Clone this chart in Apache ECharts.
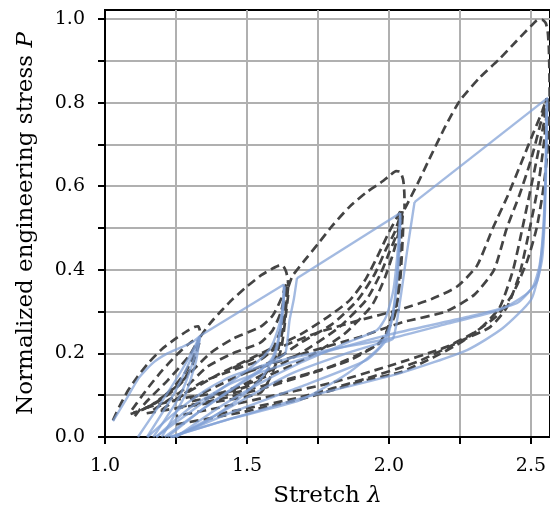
<!DOCTYPE html>
<html>
<head>
<meta charset="utf-8">
<script src="https://cdn.jsdelivr.net/npm/echarts@6/dist/echarts.min.js"></script>
<style>html,body{margin:0;padding:0;background:#fff}#c{width:550px;height:513px}</style>
</head>
<body>
<div id="c"></div>
<script>
// ---- ticks and tick labels ----
const xTicks = [1.0, 1.25, 1.5, 1.75, 2.0, 2.25, 2.5];
const xTickLabels = [1.0, 1.5, 2.0, 2.5];
const yTicks = [0, 0.1, 0.2, 0.3, 0.4, 0.5, 0.6, 0.7, 0.8, 0.9, 1.0];
const yTickLabels = [0, 0.2, 0.4, 0.6, 0.8, 1.0];

// ---- model (dashed) curves: [stretch, stress] ----
const m1Load = [[1.028,0.040],[1.05,0.072],[1.08,0.11],[1.11,0.14],[1.15,0.175],[1.2,0.21],[1.25,0.236],[1.29,0.254],[1.315,0.263],[1.328,0.265],[1.334,0.255],[1.336,0.24]];
const m2Load = [[1.336,0.24],[1.37,0.272],[1.41,0.302],[1.45,0.33],[1.5,0.36],[1.55,0.387],[1.59,0.403],[1.615,0.41],[1.628,0.408],[1.638,0.395],[1.644,0.375],[1.646,0.36]];
const m3Load = [[1.646,0.36],[1.66,0.385],[1.70,0.42],[1.75,0.462],[1.80,0.505],[1.86,0.55],[1.92,0.585],[1.97,0.608],[2.0,0.624],[2.025,0.636],[2.04,0.634],[2.05,0.615],[2.054,0.585],[2.055,0.545]];
const m4Load = [[2.055,0.545],[2.07,0.565],[2.1,0.605],[2.14,0.662],[2.2,0.745],[2.25,0.805],[2.32,0.86],[2.39,0.905],[2.45,0.948],[2.5,0.983],[2.525,0.998],[2.54,0.998],[2.552,0.99],[2.559,0.97],[2.563,0.93],[2.565,0.87],[2.566,0.80]];

const m1a = [[1.095,0.065],[1.13,0.098],[1.16,0.125],[1.2,0.158],[1.25,0.195],[1.29,0.22],[1.326,0.238]];
const m1b = [[1.105,0.05],[1.14,0.08],[1.18,0.108],[1.22,0.135],[1.26,0.165],[1.3,0.198],[1.328,0.232]];
const m1c = [[1.33,0.232],[1.31,0.19],[1.28,0.152],[1.24,0.118],[1.19,0.088],[1.14,0.068],[1.10,0.058]];
const m1d = [[1.332,0.225],[1.305,0.168],[1.27,0.13],[1.22,0.1],[1.17,0.078],[1.12,0.062],[1.09,0.055]];

const m2a = [[1.15,0.07],[1.25,0.12],[1.37,0.2],[1.45,0.235],[1.546,0.263],[1.59,0.29],[1.62,0.33],[1.64,0.37]];
const m2b = [[1.17,0.065],[1.27,0.11],[1.36,0.168],[1.45,0.2],[1.546,0.225],[1.59,0.255],[1.62,0.3],[1.64,0.365]];
const m2c = [[1.2,0.065],[1.335,0.129],[1.45,0.16],[1.546,0.184],[1.59,0.21],[1.62,0.26],[1.638,0.33],[1.645,0.37]];
const m2d = [[1.645,0.36],[1.63,0.27],[1.6,0.19],[1.546,0.136],[1.45,0.11],[1.3,0.096],[1.2,0.08],[1.12,0.065]];
const m2e = [[1.645,0.34],[1.62,0.21],[1.58,0.14],[1.546,0.105],[1.4,0.085],[1.218,0.065],[1.13,0.055]];

const m3a = [[1.25,0.09],[1.4,0.15],[1.55,0.2],[1.687,0.245],[1.78,0.285],[1.863,0.328],[1.92,0.38],[1.965,0.44],[2.0,0.49],[2.04,0.54]];
const m3b = [[1.3,0.09],[1.45,0.14],[1.6,0.185],[1.687,0.225],[1.8,0.27],[1.89,0.328],[1.95,0.39],[1.99,0.45],[2.02,0.49],[2.045,0.54]];
const m3c = [[1.35,0.09],[1.5,0.13],[1.687,0.2],[1.82,0.26],[1.92,0.328],[1.97,0.39],[2.0,0.44],[2.03,0.49],[2.048,0.54]];
const m3f = [[1.4,0.1],[1.55,0.14],[1.7,0.185],[1.84,0.245],[1.94,0.315],[1.985,0.38],[2.015,0.44],[2.038,0.5],[2.05,0.54]];
const m3d = [[2.048,0.53],[2.04,0.45],[2.03,0.328],[2.0,0.27],[1.98,0.232],[1.863,0.184],[1.687,0.144],[1.55,0.115],[1.4,0.09],[1.25,0.07]];
const m3e = [[2.05,0.5],[2.04,0.38],[2.02,0.29],[1.99,0.25],[1.958,0.22],[1.8,0.17],[1.6,0.13],[1.45,0.105],[1.3,0.085]];

const m4a = [[1.45,0.165],[1.6,0.21],[1.75,0.25],[1.9,0.28],[2.04,0.305],[2.15,0.33],[2.24,0.36],[2.31,0.41],[2.366,0.5],[2.42,0.58],[2.47,0.663],[2.51,0.73],[2.54,0.78],[2.555,0.81]];
const m4b = [[1.5,0.155],[1.7,0.2],[1.9,0.24],[2.05,0.275],[2.2,0.3],[2.3,0.34],[2.37,0.4],[2.415,0.5],[2.46,0.58],[2.5,0.663],[2.53,0.74],[2.555,0.81]];
const m4c = [[1.25,0.03],[1.45,0.055],[1.687,0.09],[1.92,0.136],[2.04,0.155],[2.155,0.19],[2.25,0.225],[2.33,0.265],[2.39,0.31],[2.437,0.4],[2.47,0.5],[2.52,0.663],[2.545,0.75],[2.558,0.81]];
const m4d = [[1.4,0.055],[1.687,0.095],[1.92,0.14],[2.1,0.18],[2.26,0.232],[2.356,0.263],[2.415,0.31],[2.46,0.39],[2.496,0.5],[2.525,0.6],[2.545,0.7],[2.56,0.81]];
const m4e = [[2.565,0.8],[2.56,0.7],[2.545,0.6],[2.52,0.5],[2.486,0.42],[2.437,0.344],[2.38,0.29],[2.3,0.25],[2.2,0.215],[2.0,0.17],[1.8,0.13],[1.6,0.1],[1.4,0.07],[1.25,0.05]];

// ---- experiment (solid blue) curves ----
const bP1 = [[1.028,0.038],[1.07,0.085],[1.12,0.142],[1.17,0.178],[1.22,0.2],[1.27,0.215],[1.31,0.228],[1.335,0.242]];
const bP2 = [[1.335,0.242],[1.63,0.365]];
const bP3 = [[1.676,0.38],[2.04,0.536]];
const bP4 = [[2.09,0.562],[2.56,0.812]];

const b1a = [[1.116,0],[1.218,0.103],[1.29,0.183],[1.333,0.24]];
const b1b = [[1.148,0],[1.24,0.1],[1.3,0.183],[1.333,0.24]];
const b1c = [[1.17,0],[1.265,0.1],[1.31,0.18],[1.335,0.24]];
const b1d = [[1.2,0],[1.282,0.1],[1.32,0.18],[1.335,0.24]];

const b2a = [[1.18,0],[1.3,0.06],[1.42,0.12],[1.52,0.17],[1.58,0.21],[1.61,0.26],[1.625,0.31],[1.63,0.365]];
const b2b = [[1.21,0],[1.33,0.06],[1.45,0.115],[1.54,0.155],[1.59,0.19],[1.615,0.25],[1.628,0.32],[1.632,0.36]];
const b2c = [[1.24,0],[1.35,0.035],[1.45,0.08],[1.55,0.14],[1.6,0.2],[1.625,0.29],[1.632,0.36]];
const b2to3 = [[1.22,0],[1.35,0.07],[1.5,0.14],[1.6,0.185],[1.635,0.2],[1.65,0.28],[1.665,0.33],[1.676,0.38]];

const b3a = [[1.25,0],[1.4,0.07],[1.55,0.13],[1.687,0.177],[1.85,0.225],[1.958,0.256],[1.99,0.288],[2.015,0.35],[2.03,0.44],[2.04,0.536]];
const b3b = [[1.24,0],[1.45,0.06],[1.687,0.12],[1.92,0.184],[1.99,0.232],[2.02,0.32],[2.035,0.43],[2.04,0.53]];
const b3c = [[1.23,0],[1.45,0.045],[1.687,0.088],[1.85,0.15],[1.968,0.216],[2.01,0.28],[2.03,0.4],[2.04,0.52]];
const b3to4 = [[1.25,0],[1.45,0.075],[1.65,0.15],[1.85,0.2],[1.97,0.225],[2.014,0.235],[2.04,0.33],[2.065,0.45],[2.09,0.562]];

const b4a = [[1.15,0],[1.25,0.06],[1.35,0.11],[1.44,0.144],[1.6,0.18],[1.8,0.21],[2.0,0.235],[2.2,0.27],[2.39,0.304],[2.48,0.34],[2.52,0.37],[2.54,0.43],[2.55,0.55],[2.555,0.7],[2.557,0.81]];
const b4b = [[1.18,0],[1.3,0.07],[1.45,0.13],[1.687,0.185],[2.0,0.245],[2.275,0.287],[2.45,0.32],[2.507,0.36],[2.53,0.41],[2.545,0.5],[2.552,0.65],[2.555,0.8]];
const b4c = [[1.23,0],[1.45,0.045],[1.687,0.092],[2.04,0.153],[2.275,0.208],[2.4,0.26],[2.5,0.328],[2.53,0.4],[2.545,0.52],[2.552,0.65],[2.556,0.8]];

const modelCurves = [m1Load,m2Load,m3Load,m4Load,m1a,m1b,m1c,m1d,m2a,m2b,m2c,m2d,m2e,m3a,m3b,m3c,m3f,m3d,m3e,m4a,m4b,m4c,m4d,m4e];
const expCurves = [bP1,bP2,bP3,bP4,b1a,b1b,b1c,b1d,b2a,b2b,b2c,b2to3,b3a,b3b,b3c,b3to4,b4a,b4b,b4c];

const FONT = 'DejaVu Serif';
const series = [];
modelCurves.forEach(d => series.push({
  type: 'line', data: d, showSymbol: false, symbol: 'none', silent: true, z: 3, smooth: 0.2,
  lineStyle: { color: '#444444', width: 2.7, type: [9, 5] }
}));
expCurves.forEach(d => series.push({
  type: 'line', data: d, showSymbol: false, symbol: 'none', silent: true, z: 4, smooth: 0.2,
  lineStyle: { color: '#7f9fd6', width: 2.4, opacity: 0.72 }
}));

const richTitle = { a: { fontFamily: FONT, fontSize: 23, color: '#000' }, b: { fontFamily: FONT, fontSize: 23, fontStyle: 'italic', color: '#000' } };
const axisLineStyle = { show: true, onZero: false, lineStyle: { color: '#000', width: 2 } };

const chart = echarts.init(document.getElementById('c'), null, { renderer: 'canvas' });
chart.setOption({
  animation: false,
  backgroundColor: '#fff',
  grid: { left: 105, top: 10, width: 447, height: 427, show: true, borderColor: '#000', borderWidth: 2, backgroundColor: 'transparent' },
  xAxis: {
    type: 'value', min: 1.0, max: 2.567,
    name: '{a|Stretch }{b|λ}', nameLocation: 'middle', nameGap: 48,
    nameTextStyle: { rich: richTitle },
    axisLine: axisLineStyle,
    axisTick: { show: true, length: 7, inside: false, customValues: xTicks, lineStyle: { color: '#000', width: 2 } },
    axisLabel: { margin: 20, fontFamily: FONT, fontSize: 19, color: '#000', customValues: xTickLabels, formatter: v => v.toFixed(1) },
    splitLine: { show: true, lineStyle: { color: '#b0b0b0', width: 2 } }
  },
  yAxis: {
    type: 'value', min: 0, max: 1.0215,
    name: '{a|Normalized engineering stress }{b|P}', nameLocation: 'middle', nameGap: 67, nameRotate: 90,
    nameTextStyle: { rich: richTitle },
    axisLine: axisLineStyle,
    axisTick: { show: true, length: 7, inside: false, customValues: yTicks, lineStyle: { color: '#000', width: 2 } },
    axisLabel: { margin: 20, fontFamily: FONT, fontSize: 19, color: '#000', customValues: yTickLabels, formatter: v => v.toFixed(1) },
    splitLine: { show: true, lineStyle: { color: '#b0b0b0', width: 2 } }
  },
  series: series
});
</script>
</body>
</html>
